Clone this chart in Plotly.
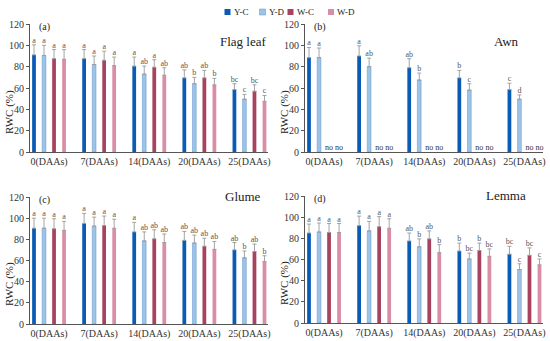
import plotly.graph_objects as go

categories = ["0(DAAs)", "7(DAAs)", "14(DAAs)", "20(DAAs)", "25(DAAs)"]
treatments = ["Y-C", "Y-D", "W-C", "W-D"]

# (a) Flag leaf
a_YC = [91, 87.5, 80.5, 69.5, 58.5]; a_YC_sd = [9.5, 8.5, 8.5, 7.5, 5.5]
a_YD = [90.5, 82, 73, 64, 49.5];     a_YD_sd = [9.5, 8, 7.5, 6, 4.5]
a_WC = [87.5, 86, 79.5, 69.5, 57];   a_WC_sd = [8.5, 8.5, 7, 7, 6]
a_WD = [87, 81, 72, 63, 47.5];       a_WD_sd = [9, 8, 7, 6, 5.5]
a_letters = [["a", "a", "a", "ab", "bc"], ["a", "a", "ab", "b", "c"],
             ["a", "a", "a", "ab", "bc"], ["a", "a", "ab", "b", "c"]]

# (b) Awn (no W-C / W-D data)
b_YC = [88.5, 90, 79, 69.5, 58.5];   b_YC_sd = [9.5, 9.5, 8.5, 7, 6]
b_YD = [88.5, 80, 67.5, 58, 49.5];   b_YD_sd = [9, 8, 6.5, 6, 4]
b_WC = None; b_WC_sd = None
b_WD = None; b_WD_sd = None
b_letters = [["a", "a", "ab", "b", "c"], ["a", "ab", "b", "c", "d"], None, None]

# (c) Glume
c_YC = [90.5, 95, 87, 79, 70];         c_YC_sd = [9.5, 9.5, 9, 8.5, 7]
c_YD = [90.5, 92.5, 78.5, 76.5, 62.5]; c_YD_sd = [9.5, 8.5, 8.5, 7.5, 6.5]
c_WC = [90, 93, 80.5, 73.5, 68.5];     c_WC_sd = [9.5, 9, 8.5, 7.5, 7]
c_WD = [88.5, 90.5, 77, 70.5, 59];     c_WD_sd = [8.5, 8.5, 8, 7.5, 5.5]
c_letters = [["a", "a", "a", "ab", "ab"], ["a", "a", "ab", "ab", "b"],
             ["a", "a", "ab", "ab", "ab"], ["a", "a", "ab", "ab", "b"]]

# (d) Lemma
d_YC = [85, 92, 77.5, 68, 65];       d_YC_sd = [8.5, 9, 7.5, 7.5, 7.5]
d_YD = [86, 87, 72, 60.5, 50.5];     d_YD_sd = [8.5, 9, 7.5, 5.5, 5.5]
d_WC = [85.5, 91, 79.5, 68.5, 64];   d_WC_sd = [8.5, 9.5, 7.5, 7, 7]
d_WD = [85.5, 89.5, 66.5, 63, 55];   d_WD_sd = [8.5, 9, 7.5, 7, 5.5]
d_letters = [["a", "a", "ab", "b", "bc"], ["a", "a", "b", "bc", "c"],
             ["a", "a", "ab", "b", "bc"], ["a", "a", "b", "bc", "c"]]

panels = [
    dict(tag="(a)", name="Flag leaf", vals=[a_YC, a_YD, a_WC, a_WD],
         sds=[a_YC_sd, a_YD_sd, a_WC_sd, a_WD_sd], letters=a_letters),
    dict(tag="(b)", name="Awn", vals=[b_YC, b_YD, b_WC, b_WD],
         sds=[b_YC_sd, b_YD_sd, b_WC_sd, b_WD_sd], letters=b_letters),
    dict(tag="(c)", name="Glume", vals=[c_YC, c_YD, c_WC, c_WD],
         sds=[c_YC_sd, c_YD_sd, c_WC_sd, c_WD_sd], letters=c_letters),
    dict(tag="(d)", name="Lemma", vals=[d_YC, d_YD, d_WC, d_WD],
         sds=[d_YC_sd, d_YD_sd, d_WC_sd, d_WD_sd], letters=d_letters),
]

colors = ["#0A5BB5", "#9DC3E6", "#A8435F", "#D98EA5"]
edge = ["#0A5BB5", "#5E95CF", "#A8435F", "#D98EA5"]

W, H = 550, 341
FONT = "Liberation Serif, Times New Roman, serif"
# pixel layout of the four panels: (left, right, top, bottom)
boxes = [(30, 268, 24, 152), (305, 543, 24, 152), (30, 268, 197, 324), (305, 543, 196, 323)]
# legend entries: square centre x (px), text start x (px)
legend_px = [(227.5, 232), (262.5, 267), (290.5, 295), (331, 335)]
legend_y = 12

slot = 0.2
bar_w = 0.075

fig = go.Figure()
annotations = []
shapes = []
for p_i, (panel, box) in enumerate(zip(panels, boxes)):
    sfx = "" if p_i == 0 else str(p_i + 1)
    xa, ya = "x" + sfx, "y" + sfx
    for t_i, tname in enumerate(treatments):
        offset = (t_i - 1.5) * slot
        xs = [i + offset for i in range(len(categories))]
        vals = panel["vals"][t_i]
        if vals is None:
            fig.add_trace(go.Scatter(
                x=xs, y=[0] * len(xs), mode="text", text=["no"] * len(xs),
                textposition="top center", textfont=dict(size=8, color="#333333", family=FONT),
                xaxis=xa, yaxis=ya, showlegend=False, hoverinfo="skip", cliponaxis=False))
            continue
        sds = panel["sds"][t_i]
        fig.add_trace(go.Bar(
            x=xs, y=vals, width=bar_w, name=tname,
            marker=dict(color=colors[t_i], line=dict(color=edge[t_i], width=0.5 if t_i == 1 else 0)),
            error_y=dict(type="data", symmetric=False, array=sds, arrayminus=[0] * len(sds),
                         color="#9A9A9A", thickness=0.9, width=2),
            xaxis=xa, yaxis=ya, showlegend=False, legendgroup=tname, hoverinfo="skip"))
        fig.add_trace(go.Scatter(
            x=xs, y=[v + s for v, s in zip(vals, sds)], mode="text",
            text=panel["letters"][t_i], textposition="top center",
            textfont=dict(size=8, color="#555555", family=FONT),
            xaxis=xa, yaxis=ya, showlegend=False, hoverinfo="skip", cliponaxis=False))

    l, r, t, b = box
    xdom = [l / W, r / W]
    ydom = [(H - b) / H, (H - t) / H]
    axis_common = dict(showline=True, linecolor="#555", linewidth=1, showgrid=False, zeroline=False,
                       tickfont=dict(family=FONT, size=10, color="#333"), automargin=False)
    fig.layout["xaxis" + sfx] = dict(domain=xdom, range=[-0.38, 4.37], anchor=ya,
                                     tickvals=list(range(len(categories))), ticktext=categories,
                                     ticks="", **axis_common)
    fig.layout["yaxis" + sfx] = dict(domain=ydom, range=[0, 120], dtick=20, anchor=xa,
                                     ticks="outside", ticklen=3, tickcolor="#555", **axis_common)
    annotations.append(dict(text=panel["tag"], xref=xa + " domain", yref=ya + " domain",
                            x=0.03, y=0.98, xanchor="left", yanchor="middle", showarrow=False,
                            font=dict(family=FONT, size=10, color="#222")))
    annotations.append(dict(text=panel["name"], xref=xa + " domain", yref=ya + " domain",
                            x=0.895 if p_i in (0, 2) else 0.845,
                            y=0.86 if p_i < 2 else 1.0,
                            xanchor="center", yanchor="middle", showarrow=False,
                            font=dict(family=FONT, size=13, color="#222")))
    annotations.append(dict(text="RWC (%)", xref="paper", yref="paper",
                            x=(l - 21) / W, y=(H - (b - 40)) / H, textangle=-90,
                            xanchor="center", yanchor="middle", showarrow=False,
                            font=dict(family=FONT, size=11, color="#222")))

# legend: small coloured squares with treatment names
for t_i, tname in enumerate(treatments):
    sx, tx = legend_px[t_i]
    shapes.append(dict(type="rect", xref="paper", yref="paper",
                       x0=(sx - 3) / W, x1=(sx + 3) / W,
                       y0=(H - legend_y - 3) / H, y1=(H - legend_y + 3) / H,
                       fillcolor=colors[t_i], line=dict(color=edge[t_i], width=0.5 if t_i == 1 else 0)))
    annotations.append(dict(text=tname, xref="paper", yref="paper",
                            x=tx / W, y=(H - legend_y) / H, xanchor="left", yanchor="middle",
                            showarrow=False, font=dict(family=FONT, size=9, color="#222")))

fig.update_layout(
    width=W, height=H, margin=dict(l=0, r=0, t=0, b=0, autoexpand=False),
    paper_bgcolor="white", plot_bgcolor="white", barmode="overlay",
    font=dict(family=FONT, size=10, color="#222"),
    showlegend=False, hovermode=False,
    annotations=annotations, shapes=shapes,
)

fig.write_html("out.html", config={"displayModeBar": False},
               post_script="document.body.style.margin='0';document.body.style.overflow='hidden';")
